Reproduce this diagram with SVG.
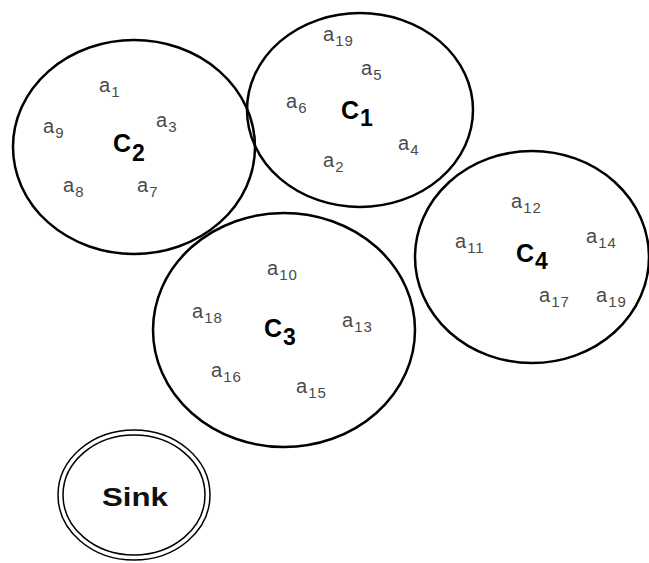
<svg xmlns="http://www.w3.org/2000/svg" width="649" height="563" viewBox="0 0 649 563">
<style>
.cl{fill:none;stroke:#000;stroke-width:2.5}
.sk{fill:none;stroke:#000;stroke-width:1.5}
.a{font-family:"Liberation Sans",Arial,sans-serif;font-size:20px;fill:#4a4a4a}
.s{font-size:15px;letter-spacing:1px}
.c{font-family:"Liberation Sans",Arial,sans-serif;font-size:25px;font-weight:bold;fill:#000}
.cs{font-size:23px}
.sink{font-family:"Liberation Sans",Arial,sans-serif;font-size:25px;font-weight:bold;fill:#111}
</style>
<rect width="649" height="563" fill="#fff"/>
<g id="connectors"/>
<g id="C2">
<ellipse class="cl" cx="134" cy="147" rx="121" ry="107"/>
<text class="a" x="99" y="92">a<tspan class="s" dx="1" dy="5">1</tspan></text>
<text class="a" x="43" y="133">a<tspan class="s" dx="1" dy="5">9</tspan></text>
<text class="a" x="156" y="127">a<tspan class="s" dx="1" dy="5">3</tspan></text>
<text class="c" x="113" y="152">C<tspan class="cs" dx="1" dy="9">2</tspan></text>
<text class="a" x="63" y="192">a<tspan class="s" dx="1" dy="5">8</tspan></text>
<text class="a" x="137" y="192">a<tspan class="s" dx="1" dy="5">7</tspan></text>
</g>
<g id="C1">
<ellipse class="cl" cx="360" cy="110" rx="113" ry="97"/>
<text class="a" x="323" y="41">a<tspan class="s" dx="1" dy="5">19</tspan></text>
<text class="a" x="361" y="75">a<tspan class="s" dx="1" dy="5">5</tspan></text>
<text class="a" x="286" y="108">a<tspan class="s" dx="1" dy="5">6</tspan></text>
<text class="c" x="341" y="119">C<tspan class="cs" dx="1" dy="7">1</tspan></text>
<text class="a" x="398" y="150">a<tspan class="s" dx="1" dy="5">4</tspan></text>
<text class="a" x="323" y="167">a<tspan class="s" dx="1" dy="5">2</tspan></text>
</g>
<g id="C4">
<ellipse class="cl" cx="532" cy="257" rx="117" ry="106"/>
<text class="a" x="511" y="208">a<tspan class="s" dx="1" dy="5">12</tspan></text>
<text class="a" x="455" y="248">a<tspan class="s" dx="1" dy="5">11</tspan></text>
<text class="c" x="516" y="262">C<tspan class="cs" dx="1" dy="7">4</tspan></text>
<text class="a" x="586" y="243">a<tspan class="s" dx="1" dy="5">14</tspan></text>
<text class="a" x="539" y="302">a<tspan class="s" dx="1" dy="5">17</tspan></text>
<text class="a" x="596" y="302">a<tspan class="s" dx="1" dy="5">19</tspan></text>
</g>
<g id="C3">
<ellipse class="cl" cx="284" cy="330" rx="131" ry="117"/>
<text class="a" x="267" y="275">a<tspan class="s" dx="1" dy="5">10</tspan></text>
<text class="a" x="192" y="318">a<tspan class="s" dx="1" dy="5">18</tspan></text>
<text class="c" x="264" y="337">C<tspan class="cs" dx="1" dy="8">3</tspan></text>
<text class="a" x="342" y="327">a<tspan class="s" dx="1" dy="5">13</tspan></text>
<text class="a" x="211" y="377">a<tspan class="s" dx="1" dy="5">16</tspan></text>
<text class="a" x="296" y="393">a<tspan class="s" dx="1" dy="5">15</tspan></text>
</g>
<g id="Sink">
<ellipse class="sk" cx="134" cy="495" rx="76" ry="65"/>
<ellipse class="sk" cx="134" cy="495" rx="71" ry="60"/>
<text class="sink" x="102" y="506" textLength="66" lengthAdjust="spacingAndGlyphs">Sink</text>
</g>
</svg>
